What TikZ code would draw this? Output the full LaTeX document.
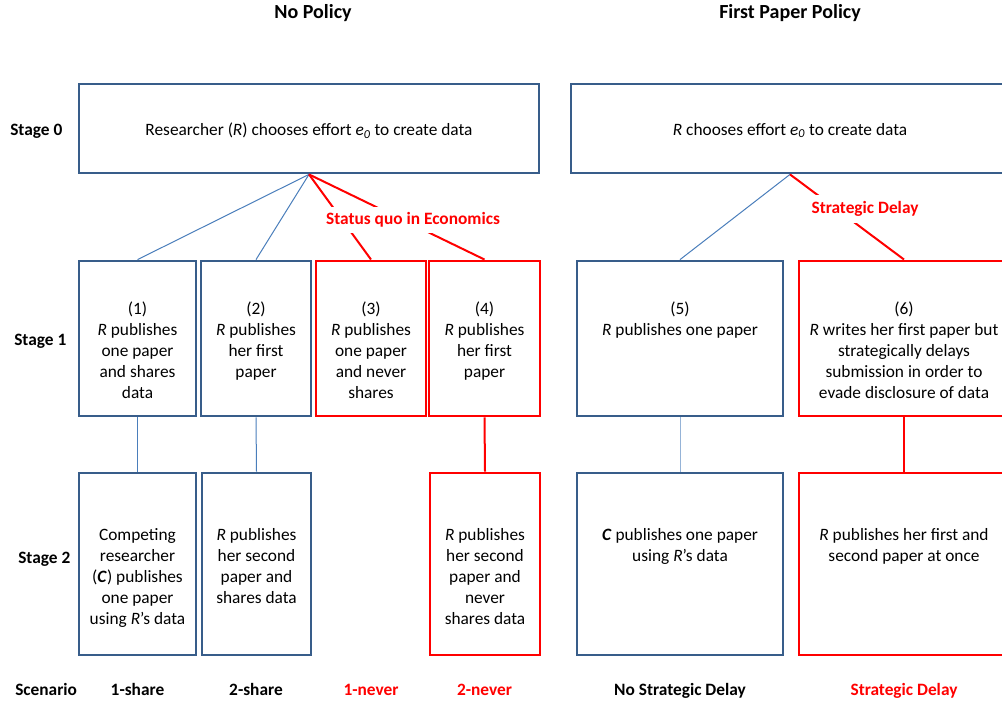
\documentclass[tikz,border=0pt]{standalone}
\usepackage{fontspec}
\setmainfont{Carlito}
\usetikzlibrary{positioning,fit}
\definecolor{boxblue}{HTML}{385D8A}
\definecolor{lineblue}{HTML}{4A7EBB}
\definecolor{paleblue}{HTML}{95B3D7}
\definecolor{hired}{HTML}{FF0000}
\tikzset{
  bluebox/.style={draw=boxblue,line width=2.1pt,inner sep=0pt},
  redbox/.style={draw=hired,line width=2.2pt,inner sep=0pt},
  boxtext/.style={align=center,inner sep=0pt,font=\fontsize{13}{15.75}\selectfont},
  stage/.style={inner sep=0pt,font=\fontsize{13}{15.75}\selectfont\bfseries},
  title/.style={inner sep=0pt,font=\fontsize{15}{18}\selectfont\bfseries},
  bluelink/.style={draw=lineblue,line width=0.75pt},
  redlink/.style={draw=hired,line width=1.5pt},
  redlabel/.style={fill=white,text=hired,inner xsep=1pt,inner ysep=4.5pt,font=\fontsize{13}{15.75}\selectfont\bfseries}
}
\begin{document}
\begin{tikzpicture}[x=0.75pt,y=-0.75pt]
\useasboundingbox (0,0) rectangle (1002,703);

%Ueberschriften
\node[title] (tnp) at (313,13) {No Policy};
\node[title] (tfp) at (790,13) {First Paper Policy};

%Stufen links
\foreach \n/\x/\y/\t in {lzero/10/135/Stage 0, lone/14/345/Stage 1, ltwo/18/563/Stage 2, lscen/15/695/Scenario}
  \node[stage,anchor=base west] (\n) at (\x,\y) {\t};

%Stufe 0
\node[bluebox,fit={(79,84) (539,173)}] (np) {};
\node[bluebox,fit={(571,84) (1009,173)}] (fp) {};
\node[boxtext] (tnp0) at ([yshift=-1.5pt]np.center)
  {Researcher (\textit{R}) chooses effort \textit{e}\textsubscript{\textit{0}} to create data};
\node[boxtext] (tfp0) at ([yshift=-1.5pt]fp.center)
  {\textit{R} chooses effort \textit{e}\textsubscript{\textit{0}} to create data};

%Stufe 1
\foreach \n/\xa/\xb/\s in {sone1/79/196/bluebox, sone2/201/311/bluebox, sone3/316/426/redbox,
  sone4/429/540/redbox, sone5/577/783/bluebox, sone6/799/1009/redbox}
  \node[\s,fit={(\xa,261) (\xb,416)}] (\n) {};

%Stufe 2
\foreach \n/\xa/\xb/\s in {stwo1/79/196/bluebox, stwo2/202/311/bluebox, stwo4/430/540/redbox,
  stwo5/577/783/bluebox, stwo6/799/1009/redbox}
  \node[\s,fit={(\xa,473) (\xb,655)}] (\n) {};

%Texte Stufe 1
\node[boxtext,below=30pt of sone1.north] (tone1) {\strut(1)\\\textit{R} publishes\\one paper\\and shares\\data};
\node[boxtext,below=30pt of sone2.north] (tone2) {\strut(2)\\\textit{R} publishes\\her first\\paper};
\node[boxtext,below=30pt of sone3.north] (tone3) {\strut(3)\\\textit{R} publishes\\one paper\\and never\\shares};
\node[boxtext,below=30pt of sone4.north] (tone4) {\strut(4)\\\textit{R} publishes\\her first\\paper};
\node[boxtext,below=30pt of sone5.north] (tone5) {\strut(5)\\\textit{R} publishes one paper};
\node[boxtext,below=30pt of sone6.north] (tone6) {\strut(6)\\\textit{R} writes her first paper but\\strategically delays\\submission in order to\\evade disclosure of data};

%Texte Stufe 2
\node[boxtext,below=40.5pt of stwo1.north] (ttwo1) {\strut Competing\\researcher\\(\textbf{\textit{C}}) publishes\\one paper\\using \textit{R}’s data};
\node[boxtext,below=40.5pt of stwo2.north] (ttwo2) {\strut\textit{R} publishes\\her second\\paper and\\shares data};
\node[boxtext,below=40.5pt of stwo4.north] (ttwo4) {\strut\textit{R} publishes\\her second\\paper and\\never\\shares data};
\node[boxtext,below=40.5pt of stwo5.north] (ttwo5) {\strut\textbf{\textit{C}} publishes one paper\\using \textit{R}’s data};
\node[boxtext,below=40.5pt of stwo6.north] (ttwo6) {\strut\textit{R} publishes her first and\\second paper at once};

%Linien
\draw[bluelink] (np.south) -- (sone1.north);
\draw[bluelink] (np.south) -- (sone2.north);
\draw[redlink] (np.south) -- (sone3.north);
\draw[redlink] (np.south) -- (sone4.north);
\draw[bluelink] (fp.south) -- (sone5.north);
\draw[redlink] (fp.south) -- (sone6.north);
\draw[bluelink] (sone1.south) -- (stwo1.north);
\draw[bluelink] (sone2.south) -- (stwo2.north);
\draw[redlink] (sone4.south) -- (stwo4.north);
\draw[draw=paleblue,line width=0.75pt] (sone5.south) -- (stwo5.north);
\draw[redlink] (sone6.south) -- (stwo6.north);

\node[redlabel] (sq) at (413,220) {Status quo in Economics};
\node[redlabel] (sd) at (865,209) {Strategic Delay};

%Szenarien
\coordinate (scenrow) at (0,695);
\node[stage,anchor=base] (sc1) at (sone1 |- scenrow) {1-share};
\node[stage,anchor=base] (sc2) at (sone2 |- scenrow) {2-share};
\node[stage,anchor=base,text=hired] (sc3) at (sone3 |- scenrow) {1-never};
\node[stage,anchor=base,text=hired] (sc4) at (sone4 |- scenrow) {2-never};
\node[stage,anchor=base] (sc5) at (sone5 |- scenrow) {No Strategic Delay};
\node[stage,anchor=base,text=hired] (sc6) at (sone6 |- scenrow) {Strategic Delay};

\end{tikzpicture}
\end{document}
